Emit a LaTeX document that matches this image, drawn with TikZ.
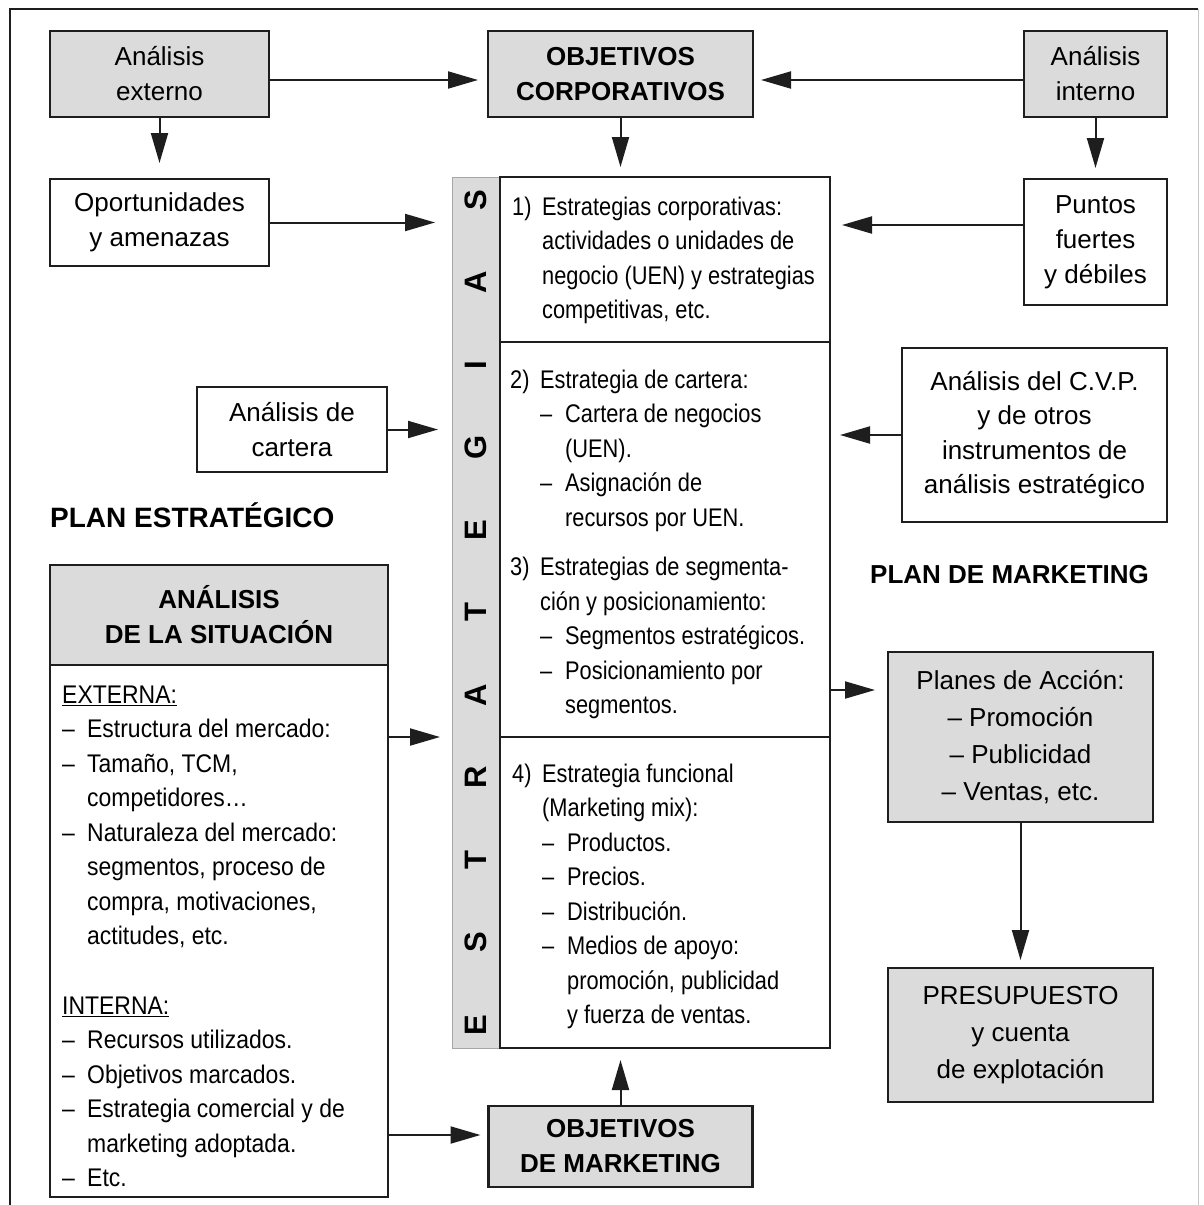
\documentclass[tikz,border=0pt]{standalone}
\usepackage{fontspec}
\setmainfont{Liberation Sans}
\newfontfamily\stratfont[FakeStretch=0.855]{Liberation Sans}
\newfontfamily\sitfont[FakeStretch=0.9]{Liberation Sans}
\usetikzlibrary{arrows.meta,positioning}
\definecolor{boxgrey}{RGB}{219,219,219}
\definecolor{ink}{RGB}{30,30,30}
\tikzset{
    greybox/.style={draw=ink,line width=2.5pt,fill=boxgrey,align=center,inner sep=0pt,outer sep=0pt,font=\fontsize{26}{35}\selectfont},
    whitebox/.style={greybox,fill=white},
    heading/.style={font=\fontsize{26}{35}\selectfont\bfseries},
    listtext/.style={anchor=north west,inner sep=0pt,align=left},
    flow/.style={-{Triangle[length=30pt,width=17pt]},line width=2pt,draw=ink}
}
\newcommand{\stnum}[1]{\makebox[30pt][l]{#1}}
\newcommand{\stdash}{\makebox[25pt][l]{–}}

\begin{document}
\begin{tikzpicture}[x=1pt,y=-1pt]
    \useasboundingbox (0,0) rectangle (1204,1205);

    % frame
    \draw[ink,line width=2.5pt] (10,1205) -- (10,9) -- (1198,9);
    \draw[gray!45,line width=1pt] (1198,9) -- (1198,1205);

    % top row
    \node[greybox,minimum width=219pt,minimum height=86pt] (extA) at (159.5,74) {Análisis\\externo};
    \node[greybox,heading,minimum width=265pt,minimum height=86pt] (objCorp) at (620.5,74) {OBJETIVOS\\CORPORATIVOS};
    \node[greybox,minimum width=143pt,minimum height=86pt] (intA) at (1095.5,74) {Análisis\\interno};

    \node[whitebox,minimum width=219pt,minimum height=87pt,below=62pt of extA] (oport) {Oportunidades\\y amenazas};
    \node[whitebox,minimum width=143pt,minimum height=126pt,below=62pt of intA] (puntos) {Puntos\\fuertes\\y débiles};

    \node[whitebox,minimum width=190pt,minimum height=85pt] (cartera) at (292,429.5) {Análisis de\\cartera};
    \node[whitebox,font=\fontsize{26}{34.5}\selectfont,minimum width=265pt,minimum height=174pt] (cvp) at (1034.5,435) {Análisis del C.V.P.\\y de otros\\instrumentos de\\análisis estratégico};

    \node[heading,font=\fontsize{28}{35}\selectfont\bfseries,anchor=base west,inner sep=0pt] (planE) at (50,527) {PLAN ESTRATÉGICO};
    \node[heading,anchor=base west,inner sep=0pt] (planM) at (870,583) {PLAN DE MARKETING};

    \node[greybox,font=\fontsize{26}{37}\selectfont,minimum width=265pt,minimum height=170pt] (planes) at (1020.5,737) {Planes de Acción:\\– Promoción\\– Publicidad\\– Ventas, etc.};
    \node[greybox,font=\fontsize{26}{37}\selectfont,minimum width=265pt,minimum height=134pt,below=146pt of planes] (presup) {PRESUPUESTO\\y cuenta\\de explotación};

    \node[greybox,heading,minimum width=264pt,minimum height=81pt] (objMkt) at (620.5,1146.5) {OBJETIVOS\\DE MARKETING};

    % estrategias
    \node[draw=gray!70,line width=1pt,fill=boxgrey,minimum width=48pt,minimum height=871pt,inner sep=0pt,outer sep=0pt] (strip) at (476,612.5) {};
    \foreach \ch [count=\i from 0] in {E,S,T,R,A,T,E,G,I,A,S}
        \node[rotate=90,font=\fontsize{31}{31}\selectfont\bfseries] (ltr\i) at (476,{1025-82.5*\i}) {\ch};

    \node[draw=ink,line width=2.5pt,minimum width=330pt,minimum height=165pt,inner sep=0pt,outer sep=0pt,anchor=north west] (strat1) at (500,177) {};
    \node[draw=ink,line width=2.5pt,minimum width=330pt,minimum height=395pt,inner sep=0pt,outer sep=0pt,anchor=north west] (strat2) at (500,342) {};
    \node[draw=ink,line width=2.5pt,minimum width=330pt,minimum height=311pt,inner sep=0pt,outer sep=0pt,anchor=north west] (strat3) at (500,737) {};

    \node[listtext,font=\stratfont\fontsize{25.5}{34.5}\selectfont] (txt1) at (512,191) {%
        \strut\stnum{1)}Estrategias corporativas:\\
        \hskip30pt actividades o unidades de\\
        \hskip30pt negocio (UEN) y estrategias\\
        \hskip30pt competitivas, etc.};
    \node[listtext,font=\stratfont\fontsize{25.5}{34.5}\selectfont] (txt2) at (510,364) {%
        \strut\stnum{2)}Estrategia de cartera:\\
        \hskip30pt\stdash Cartera de negocios\\
        \hskip55pt (UEN).\\
        \hskip30pt\stdash Asignación de\\
        \hskip55pt recursos por UEN.\\[15pt]
        \stnum{3)}Estrategias de segmenta-\\
        \hskip30pt ción y posicionamiento:\\
        \hskip30pt\stdash Segmentos estratégicos.\\
        \hskip30pt\stdash Posicionamiento por\\
        \hskip55pt segmentos.};
    \node[listtext,font=\stratfont\fontsize{25.5}{34.5}\selectfont] (txt4) at (512,758) {%
        \strut\stnum{4)}Estrategia funcional\\
        \hskip30pt (Marketing mix):\\
        \hskip30pt\stdash Productos.\\
        \hskip30pt\stdash Precios.\\
        \hskip30pt\stdash Distribución.\\
        \hskip30pt\stdash Medios de apoyo:\\
        \hskip55pt promoción, publicidad\\
        \hskip55pt y fuerza de ventas.};

    % analisis de la situacion
    \node[greybox,heading,minimum width=338pt,minimum height=100pt] (sitHead) at (219,615) {ANÁLISIS\\DE LA SITUACIÓN};
    \node[whitebox,minimum width=338pt,minimum height=532pt,below=0pt of sitHead] (sitBody) {};
    \node[listtext,font=\sitfont\fontsize{25.5}{34.5}\selectfont] (sitText) at (62,679) {%
        \strut\underline{EXTERNA:}\\
        \stdash Estructura del mercado:\\
        \stdash Tamaño, TCM,\\
        \hskip25pt competidores…\\
        \stdash Naturaleza del mercado:\\
        \hskip25pt segmentos, proceso de\\
        \hskip25pt compra, motivaciones,\\
        \hskip25pt actitudes, etc.\\[35pt]
        \underline{INTERNA:}\\
        \stdash Recursos utilizados.\\
        \stdash Objetivos marcados.\\
        \stdash Estrategia comercial y de\\
        \hskip25pt marketing adoptada.\\
        \stdash Etc.};

    % connectors
    \draw[flow,shorten >=10pt] ([yshift=-6pt]extA.east) -- ([yshift=-6pt]objCorp.west);
    \draw[flow,shorten >=8pt] ([yshift=-6pt]intA.west) -- ([yshift=-6pt]objCorp.east);
    \draw[flow,shorten >=16pt] (extA) -- (oport);
    \draw[flow,shorten >=10pt] (objCorp.south) -- (objCorp.south |- strat1.north);
    \draw[flow,shorten >=11pt] (intA) -- (puntos);
    \draw[flow,shorten >=17pt] (oport.east) -- (oport.east -| strip.west);
    \draw[flow,shorten >=12pt] ([yshift=17pt]puntos.west) -- ([yshift=17pt]puntos.west -| strat1.east);
    \draw[flow,shorten >=14pt] (cartera.east) -- (cartera.east -| strip.west);
    \draw[flow,shorten >=10pt] (cvp.west) -- (cvp.west -| strat2.east);
    \draw[flow,shorten >=12pt] ([yshift=194pt]sitBody.east) -- ([yshift=194pt]sitBody.east -| strip.west);
    \draw[flow,shorten >=13pt] ([yshift=47pt]planes.west -| strat2.east) -- ([yshift=47pt]planes.west);
    \draw[flow,shorten >=8pt] (planes) -- (presup);
    \draw[flow,shorten >=8pt] ([yshift=-204pt]sitBody.east) -- ([yshift=-204pt]sitBody.east -| objMkt.west);
    \draw[flow,shorten >=12pt] (objMkt.north) -- (objMkt.north |- strat3.south);

\end{tikzpicture}
\end{document}
